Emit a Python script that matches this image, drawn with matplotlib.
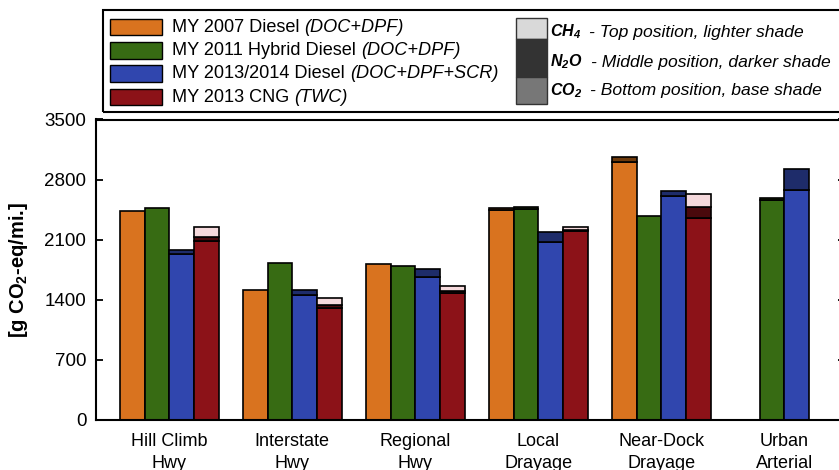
import numpy as np
import matplotlib
matplotlib.use("Agg")
import matplotlib.pyplot as plt
from matplotlib.patches import Rectangle

plt.rcParams['font.family'] = ['Liberation Sans', 'DejaVu Sans']
plt.rcParams['mathtext.fontset'] = 'custom'
plt.rcParams['mathtext.rm'] = 'Liberation Sans'
plt.rcParams['mathtext.it'] = 'Liberation Sans:italic'
plt.rcParams['mathtext.bf'] = 'Liberation Sans:bold'
plt.rcParams['mathtext.sf'] = 'Liberation Sans:bold:italic'

# drive cycles
categories = ["Hill Climb\nHwy", "Interstate\nHwy", "Regional\nHwy",
              "Local\nDrayage", "Near-Dock\nDrayage", "Urban\nArterial"]

# vehicles: legend name, after-treatment
vehicles = ["MY 2007 Diesel ", "MY 2011 Hybrid Diesel ",
            "MY 2013/2014 Diesel ", "MY 2013 CNG "]
aftertreat = ["(DOC+DPF)", "(DOC+DPF)", "(DOC+DPF+SCR)", "(TWC)"]

nan = np.nan
# g CO2-eq / mi, per gas, per vehicle (rows) and cycle (cols)
co2 = [
    [2438, 1517, 1820, 2442, 3010, nan],
    [2470, 1828, 1797, 2462, 2380, 2567],
    [1937, 1458, 1660, 2069, 2605, 2683],
    [2080, 1310, 1478, 2205, 2352, nan],
]
n2o = [
    [0, 0, 0, 28, 50, nan],
    [0, 0, 0, 15, 0, 15],
    [46, 59, 98, 121, 58, 242],
    [47, 32, 22, 12, 129, nan],
]
ch4 = [
    [0, 0, 0, 0, 0, nan],
    [0, 0, 0, 0, 0, 0],
    [0, 0, 0, 0, 0, 0],
    [121, 78, 56, 31, 151, nan],
]

base_colors = ['#D9731F', '#376B13', '#3046AE', '#8C1218']
dark_colors = ['#6E3A0C', '#1E3A09', '#1E2C6A', '#4A090C']
light_colors = ['#F6DCC6', '#D5E3C8', '#D3D8F0', '#F5D9DC']

yticks = [0, 700, 1400, 2100, 2800, 3500]

fig = plt.figure(figsize=(8.39, 4.70), dpi=100)
W, H = 839, 470

# axes run past the right edge of the figure
ax_left, ax_bottom, ax_top = 96, 420, 119.5
x0, x1 = -0.98, 29.47
px_per_unit = 24.6
ax_w = (x1 - x0) * px_per_unit
ax = fig.add_axes([ax_left / W, (H - ax_bottom) / H, ax_w / W,
                   (ax_bottom - ax_top) / H])

n_cat = len(categories)
for j in range(len(vehicles)):
    xs = np.arange(n_cat) * 5 + j + 0.5
    c = np.array(co2[j], dtype=float)
    n = np.array(n2o[j], dtype=float)
    m = np.array(ch4[j], dtype=float)
    ok = ~np.isnan(c)
    kw = dict(width=1.0, edgecolor='black', linewidth=1.2, zorder=2)
    ax.bar(xs[ok], c[ok], color=base_colors[j], **kw)
    ax.bar(xs[ok & (n > 0)], n[ok & (n > 0)], bottom=c[ok & (n > 0)],
           color=dark_colors[j], **kw)
    top = c + n
    ax.bar(xs[ok & (m > 0)], m[ok & (m > 0)], bottom=top[ok & (m > 0)],
           color=light_colors[j], **kw)

ax.set_xlim(x0, x1)
ax.set_ylim(0, 3500)
ax.set_yticks(yticks)
ax.set_xticks(np.arange(n_cat) * 5 + 2)
ax.set_xticklabels(categories, fontsize=13, linespacing=1.45)
ax.tick_params(axis='x', length=0, pad=9)
ax.tick_params(axis='y', direction='in', length=5, width=1.3, labelsize=13.5,
               right=True, pad=7)
for s in ax.spines.values():
    s.set_linewidth(1.5)
ax.set_ylabel(r"[g CO$_\mathbf{2}$-eq/mi.]", fontsize=14.5, fontweight='bold',
              labelpad=10)

# legend frame
fig.patches.append(Rectangle((103 / W, (H - 112) / H), 800 / W, 102.5 / H,
                             transform=fig.transFigure, fill=False,
                             edgecolor='black', linewidth=1.5, zorder=5))

fig.canvas.draw()
renderer = fig.canvas.get_renderer()

rows_y = [27, 50.3, 73.6, 97]
for j in range(len(vehicles)):
    yc = rows_y[j]
    fig.patches.append(Rectangle((110 / W, (H - yc - 8.3) / H), 52 / W, 16.6 / H,
                                 transform=fig.transFigure,
                                 facecolor=base_colors[j], edgecolor='black',
                                 linewidth=1.0, zorder=6))
    t = fig.text(172 / W, (H - yc) / H, vehicles[j], fontsize=13.1,
                 va='center', ha='left')
    bb = t.get_window_extent(renderer)
    fig.text(bb.x1 / W, (H - yc) / H, aftertreat[j], fontsize=13.1,
             style='italic', va='center', ha='left')

# gas shading key
gas_labels = [r"$\mathsf{CH_4}$", r"$\mathsf{N_2O}$", r"$\mathsf{CO_2}$"]
gas_desc = ["- Top position, lighter shade",
            "- Middle position, darker shade",
            "- Bottom position, base shade"]
gas_colors = ['#D9D9D9', '#333333', '#777777']
gas_spans = [(18.3, 39.0), (39.0, 76.7), (76.7, 104.3)]
gas_y = [32, 62, 91]
for k in range(3):
    ya, yb = gas_spans[k]
    fig.patches.append(Rectangle((516 / W, (H - yb) / H), 31 / W, (yb - ya) / H,
                                 transform=fig.transFigure,
                                 facecolor=gas_colors[k], edgecolor='#333333',
                                 linewidth=1.0, zorder=6))
    t = fig.text(550 / W, (H - gas_y[k]) / H, gas_labels[k], fontsize=11.5,
                 va='center', ha='left')
    bb = t.get_window_extent(renderer)
    fig.text((bb.x1 + 8) / W, (H - gas_y[k]) / H, gas_desc[k], fontsize=12.6,
             style='italic', va='center', ha='left')

fig.savefig("out.png", dpi=100)
